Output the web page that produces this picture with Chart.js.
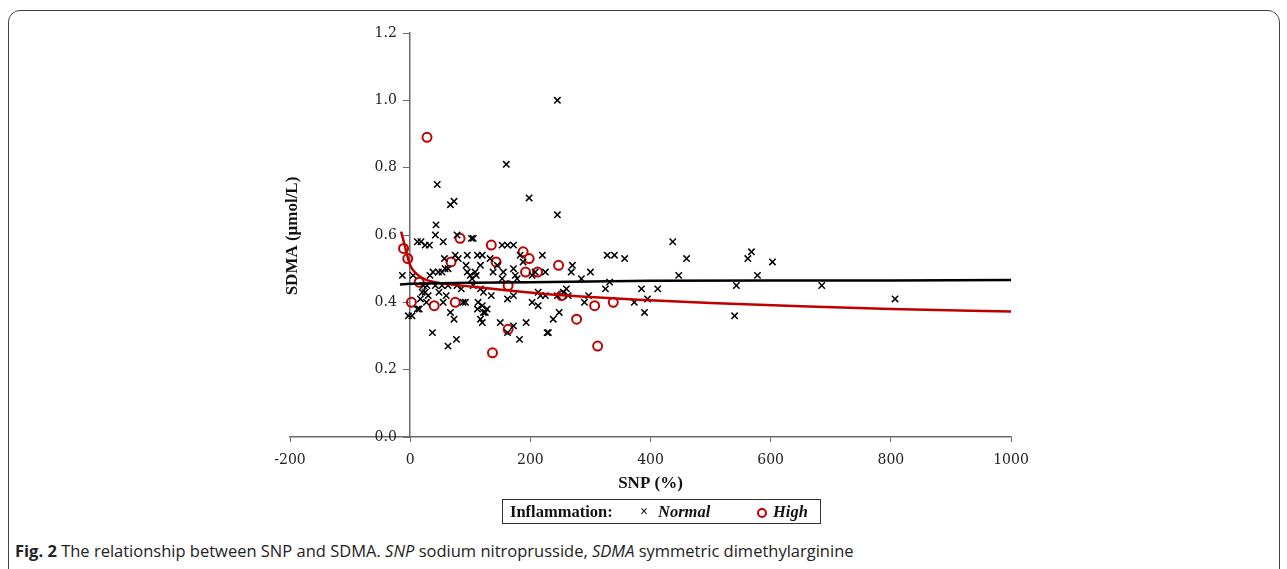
<!DOCTYPE html>
<html>
<head>
<meta charset="utf-8">
<script src="https://cdn.jsdelivr.net/npm/chart.js@4"></script>
<style>
  body { margin: 0; background: #fff; width: 1287px; height: 569px; overflow: hidden; position: relative; }
  #frame { position: absolute; left: 8px; top: 10px; width: 1270px; height: 620px; border: 1px solid #444; border-radius: 12px; }
  #wrap { position: absolute; left: 0; top: 0; width: 1287px; height: 500px; }
  #legend { position: absolute; left: 502px; top: 499px; width: 317px; height: 23px; border: 1px solid #333;
    font-family: "Liberation Serif", serif; font-weight: bold; font-size: 16.5px; color: #111; line-height: 24px; white-space: nowrap; }
  #legend span { position: absolute; top: 0; }
  #legend .ring { top: 8px; width: 6px; height: 6px; border: 2px solid #c00000; border-radius: 50%; }
  #caption { position: absolute; left: 15px; top: 539px; font-family: "Open Sans", sans-serif; font-size: 16.5px; color: #222; white-space: nowrap; }
</style>
</head>
<body>
<div id="frame"></div>
<div id="wrap"><canvas id="chart"></canvas></div>
<div id="legend">
  <span style="left:7px">Inflammation:</span>
  <span style="left:137px;font-size:14px">×</span>
  <span style="left:155px;font-style:italic">Normal</span>
  <span class="ring" style="left:254px"></span>
  <span style="left:270px;font-style:italic">High</span>
</div>
<div id="caption"><b>Fig. 2</b> The relationship between SNP and SDMA. <i>SNP</i> sodium nitroprusside, <i>SDMA</i> symmetric dimethylarginine</div>
<script>
// Normal inflammation points (SNP %, SDMA umol/L)
const normalX = [-13, 5, -3, 3, 12, 12, 18, 25, 32, 43, 42, 55, 78, 102, 95, 75, 57, 80, 93, 33,
  38, 47, 53, 58, 63, 95, 100, 103, 22, 28, 20, 25, 30, 42, 53, 63, 78, 17, 27, 55,
  88, 92, 15, 67, 73, 37, 63, 77, 45, 67, 73, 160, 198, 245, 245, 105, 153, 162, 172, 112,
  120, 133, 117, 145, 183, 188, 220, 138, 155, 172, 153, 175, 178, 203, 208, 105, 117, 122, 135, 162,
  172, 213, 217, 203, 213, 113, 120, 112, 122, 128, 125, 117, 120, 150, 172, 193, 162, 182, 228, 328,
  340, 357, 270, 268, 300, 285, 225, 332, 325, 225, 245, 255, 260, 263, 297, 290, 248, 238, 230, 385,
  412, 395, 373, 390, 437, 460, 447, 562, 568, 578, 603, 543, 540, 685, 807, 48, 60, 85, 108, 110];
const normalY = [0.48, 0.48, 0.36, 0.36, 0.38, 0.58, 0.58, 0.57, 0.57, 0.63, 0.60, 0.58, 0.60, 0.59, 0.54, 0.54, 0.53, 0.53, 0.51, 0.48,
  0.49, 0.49, 0.49, 0.50, 0.50, 0.49, 0.48, 0.47, 0.45, 0.45, 0.43, 0.43, 0.42, 0.45, 0.45, 0.45, 0.45, 0.41, 0.40, 0.40,
  0.40, 0.40, 0.38, 0.37, 0.35, 0.31, 0.27, 0.29, 0.75, 0.69, 0.70, 0.81, 0.71, 1.00, 0.66, 0.59, 0.57, 0.57, 0.57, 0.54,
  0.54, 0.53, 0.51, 0.51, 0.54, 0.52, 0.54, 0.49, 0.49, 0.50, 0.47, 0.48, 0.47, 0.48, 0.49, 0.45, 0.44, 0.43, 0.42, 0.41,
  0.42, 0.43, 0.42, 0.40, 0.39, 0.40, 0.39, 0.38, 0.37, 0.38, 0.37, 0.35, 0.34, 0.34, 0.33, 0.34, 0.31, 0.29, 0.31, 0.54,
  0.54, 0.53, 0.51, 0.49, 0.49, 0.47, 0.49, 0.46, 0.44, 0.42, 0.42, 0.43, 0.44, 0.42, 0.42, 0.40, 0.37, 0.35, 0.31, 0.44,
  0.44, 0.41, 0.40, 0.37, 0.58, 0.53, 0.48, 0.53, 0.55, 0.48, 0.52, 0.45, 0.36, 0.45, 0.41, 0.43, 0.42, 0.44, 0.49, 0.48];

// High inflammation points
const highX = [-11, -4, 2, 28, 15, 40, 68, 75, 83, 135, 137, 143, 163, 163, 188, 198, 192, 212, 247, 252, 277, 307, 312, 338];
const highY = [0.56, 0.53, 0.40, 0.89, 0.46, 0.39, 0.52, 0.40, 0.59, 0.57, 0.25, 0.52, 0.45, 0.32, 0.55, 0.53, 0.49, 0.49, 0.51, 0.42, 0.35, 0.39, 0.27, 0.40];

// Trend lines
const normalTrendX = [-17, 0, 50, 100, 200, 300, 400, 600, 800, 1000];
const normalTrendY = [0.453, 0.455, 0.457, 0.458, 0.460, 0.462, 0.464, 0.465, 0.465, 0.466];
const highTrendX = [-15, -10, -5, 0, 10, 25, 50, 100, 160, 230, 300, 380, 500, 650, 800, 1000];
const highTrendY = [0.61, 0.575, 0.54, 0.51, 0.485, 0.468, 0.457, 0.447, 0.436, 0.424, 0.416, 0.408, 0.398, 0.388, 0.380, 0.373];

const xTicks = [-200, 0, 200, 400, 600, 800, 1000];
const yTicks = [0, 0.2, 0.4, 0.6, 0.8, 1.0, 1.2];

const RED = "#c00000";
const AXIS = "#6b6b6b";
const toPoints = (xs, ys) => xs.map((x, i) => ({ x: x, y: ys[i] }));

// y axis title sits left of the plot, drawn by hand
const yTitlePlugin = {
  id: "yTitle",
  afterDraw(chart) {
    const ctx = chart.ctx;
    ctx.save();
    ctx.translate(293, 236);
    ctx.rotate(-Math.PI / 2);
    ctx.font = "bold 17px 'Liberation Serif'";
    ctx.fillStyle = "#111";
    ctx.textAlign = "center";
    ctx.textBaseline = "middle";
    ctx.fillText("SDMA (μmol/L)", 0, 0);
    ctx.restore();
  },
};

const tickFont = { family: "DejaVu Serif", size: 14 };

new Chart(document.getElementById("chart"), {
  type: "scatter",
  data: {
    datasets: [
      {
        label: "Normal trend",
        data: toPoints(normalTrendX, normalTrendY),
        showLine: true,
        borderColor: "#000",
        borderWidth: 2.5,
        pointRadius: 0,
        order: 0,
      },
      {
        label: "High trend",
        data: toPoints(highTrendX, highTrendY),
        showLine: true,
        borderColor: RED,
        borderWidth: 2.5,
        pointRadius: 0,
        cubicInterpolationMode: "monotone",
        order: 0,
      },
      {
        label: "Normal",
        data: toPoints(normalX, normalY),
        pointStyle: "crossRot",
        pointRadius: 4.5,
        borderColor: "#000",
        borderWidth: 1.5,
        order: 1,
      },
      {
        label: "High",
        data: toPoints(highX, highY),
        pointStyle: "circle",
        pointRadius: 4.5,
        borderColor: RED,
        backgroundColor: "rgba(0,0,0,0)",
        borderWidth: 2,
        order: 1,
      },
    ],
  },
  options: {
    responsive: true,
    maintainAspectRatio: false,
    animation: false,
    layout: { padding: { left: 290, right: 276, top: 33, bottom: 0 } },
    plugins: { legend: { display: false }, tooltip: { enabled: false } },
    scales: {
      x: {
        type: "linear",
        min: -200,
        max: 1000,
        afterBuildTicks: (s) => { s.ticks = xTicks.map((v) => ({ value: v })); },
        afterFit: (s) => { s.height = 63; },
        grid: { drawOnChartArea: false, drawTicks: true, tickLength: 5, color: AXIS },
        border: { display: true, color: AXIS, width: 1.5 },
        ticks: { font: tickFont, color: "#222", padding: 10, callback: (v) => String(v) },
        title: { display: true, text: "SNP (%)", font: { family: "Liberation Serif", size: 17, weight: "bold" }, color: "#111", padding: { top: 2, bottom: 6 } },
      },
      y: {
        type: "linear",
        position: { x: 0 },
        min: 0,
        max: 1.2,
        afterBuildTicks: (s) => { s.ticks = yTicks.map((v) => ({ value: v })); },
        grid: { drawOnChartArea: false, drawTicks: true, tickLength: 6, color: AXIS },
        border: { display: true, color: AXIS, width: 1.5 },
        // the axis sits at x = 0, so the labels are pushed off it with trailing spaces
        ticks: { font: tickFont, color: "#222", callback: (v) => v.toFixed(1) + "   " },
      },
    },
  },
  plugins: [yTitlePlugin],
});
</script>
</body>
</html>
